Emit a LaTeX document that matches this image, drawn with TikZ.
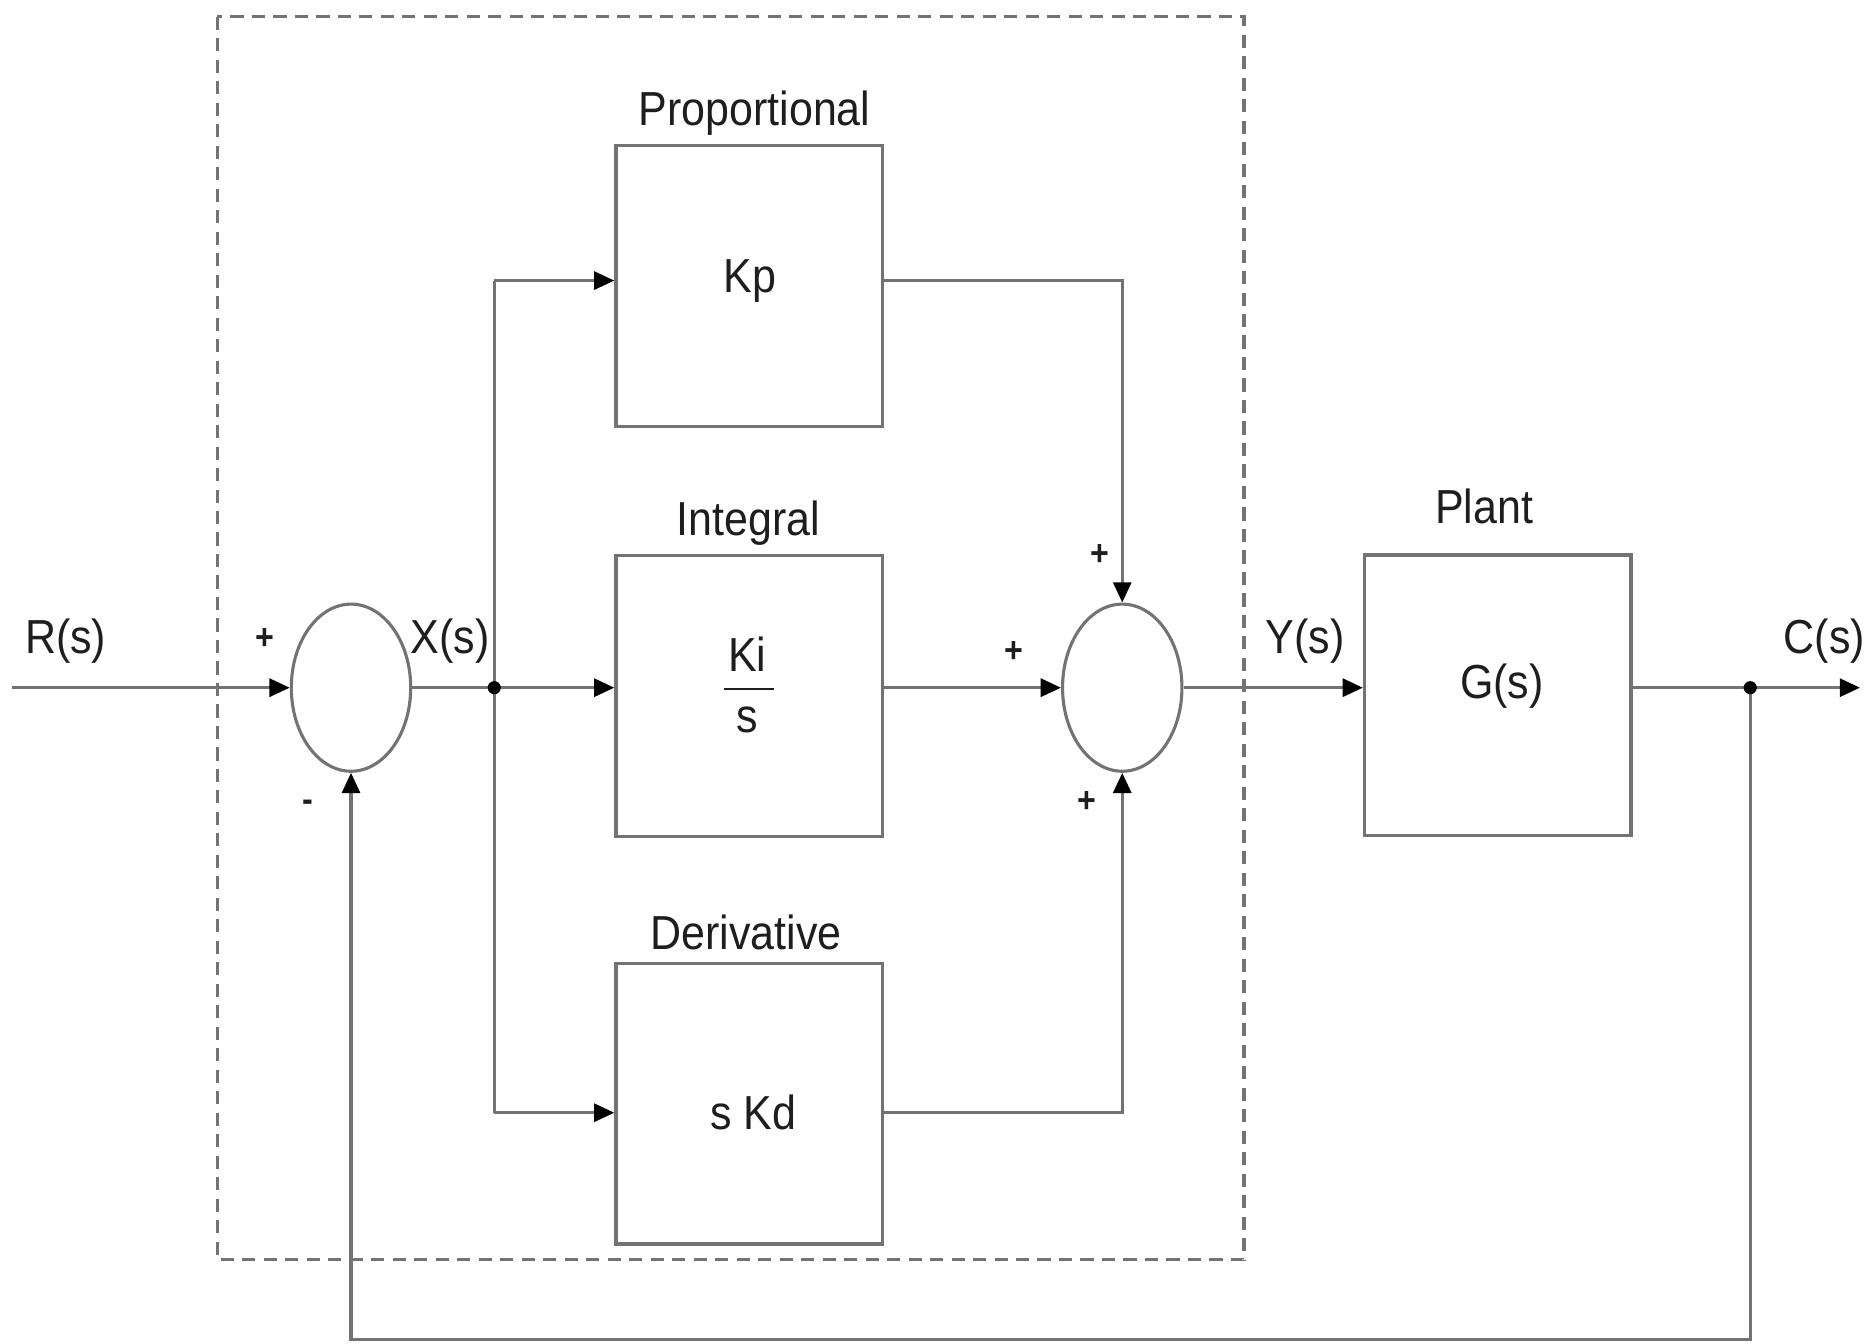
\documentclass[tikz,border=0pt]{standalone}
\usepackage{fontspec}
\setmainfont{Liberation Sans}[FakeStretch=0.9]
\usetikzlibrary{arrows.meta,shapes.geometric}
\definecolor{lgray}{RGB}{115,115,115}
\definecolor{tcol}{RGB}{30,30,30}
\begin{document}
\begin{tikzpicture}[x=1pt,y=-1pt,
 ln/.style={draw=lgray,line width=2.8pt},
 blk/.style={draw=lgray,line width=2.8pt,minimum width=223pt,minimum height=235pt,inner sep=0pt},
 sumj/.style={ellipse,draw=lgray,line width=2.6pt,minimum width=100pt,minimum height=140pt,inner sep=0pt},
 txt/.style={font=\fontsize{40}{48}\selectfont,text=tcol,inner sep=0pt},
 sgn/.style={font=\fontsize{30}{34}\selectfont\bfseries,text=tcol,inner sep=0pt},
 arr/.style={-{Triangle[length=17pt,width=15pt,color=black]}},
 dotn/.style={circle,fill=black,minimum size=11pt,inner sep=0pt},
]
\useasboundingbox (0,0) rectangle (1568,1125);
% controller frame
\draw[draw=lgray,line width=2.8pt,dash pattern=on 11pt off 7pt] (182,14) rectangle (1042,1055);
% blocks
\node[blk] (kp) at (627.5,239.5) {};
\node[blk] (ki) at (627.5,583) {};
\node[blk] (kd) at (627.5,924.5) {};
\node[blk] (plant) at (1254.5,582.5) {};
\node[sumj] (sum1) at (294,576) {};
\node[sumj] (sum2) at (940,576) {};
% coordinates
\coordinate (in) at (10,576);
\coordinate (xj) at (414,576);
\coordinate (ptop) at (414,235);
\coordinate (pbot) at (414,932);
\coordinate (cj) at (1466,576);
\coordinate (out) at (1558,576);
\coordinate (fb) at (1466,1122);
% connectors
\draw[ln,arr] (in) -- (sum1.west);
\draw[ln] (sum1.east) -- (xj);
\draw[ln,arr] (xj) -- (ki.west |- xj);
\draw[ln] (pbot) -- (ptop);
\draw[ln,arr] (ptop) -- (kp.west |- ptop);
\draw[ln,arr] (pbot) -- (kd.west |- pbot);
\draw[ln,arr] (kp.east |- ptop) -| (sum2.north);
\draw[ln,arr] (ki.east |- xj) -- (sum2.west);
\draw[ln,arr] (kd.east |- pbot) -| (sum2.south);
\draw[ln,arr] (sum2.east) -- (plant.west |- xj);
\draw[ln] (plant.east |- xj) -- (cj);
\draw[ln,arr] (cj) -- (out);
\draw[ln,arr] (cj) -- (fb) -| (sum1.south);
\node[dotn] (xdot) at (xj) {};
\node[dotn] (cdot) at (cj) {};
% labels
\node[txt] (lr) at (55,537) {R(s)};
\node[txt] (lx) at (377,537) {X(s)};
\node[txt] (ly) at (1093,537) {Y(s)};
\node[txt] (lc) at (1528,537) {C(s)};
\node[txt] (lprop) at (632,95) {Proportional};
\node[txt] (lint) at (627,438) {Integral};
\node[txt] (lder) at (625,781) {Derivative};
\node[txt] (lplant) at (1243,424) {Plant};
\node[txt] (tkp) at (628,235) {Kp};
\node[txt] (tki) at (626,548) {Ki};
\node[txt] (tks) at (626,603) {s};
\draw[ln,draw=tcol,line width=2pt] (606,577) -- (648,577);
\node[txt] (tkd) at (631,932) {s Kd};
\node[txt] (tg) at (1258,575) {G(s)};
% signs
\node[sgn] (s1) at (222,535) {+};
\node[sgn] (s2) at (258,675) {-};
\node[sgn] (s3) at (921,465) {+};
\node[sgn] (s4) at (849,546) {+};
\node[sgn] (s5) at (910,672) {+};
\end{tikzpicture}
\end{document}
